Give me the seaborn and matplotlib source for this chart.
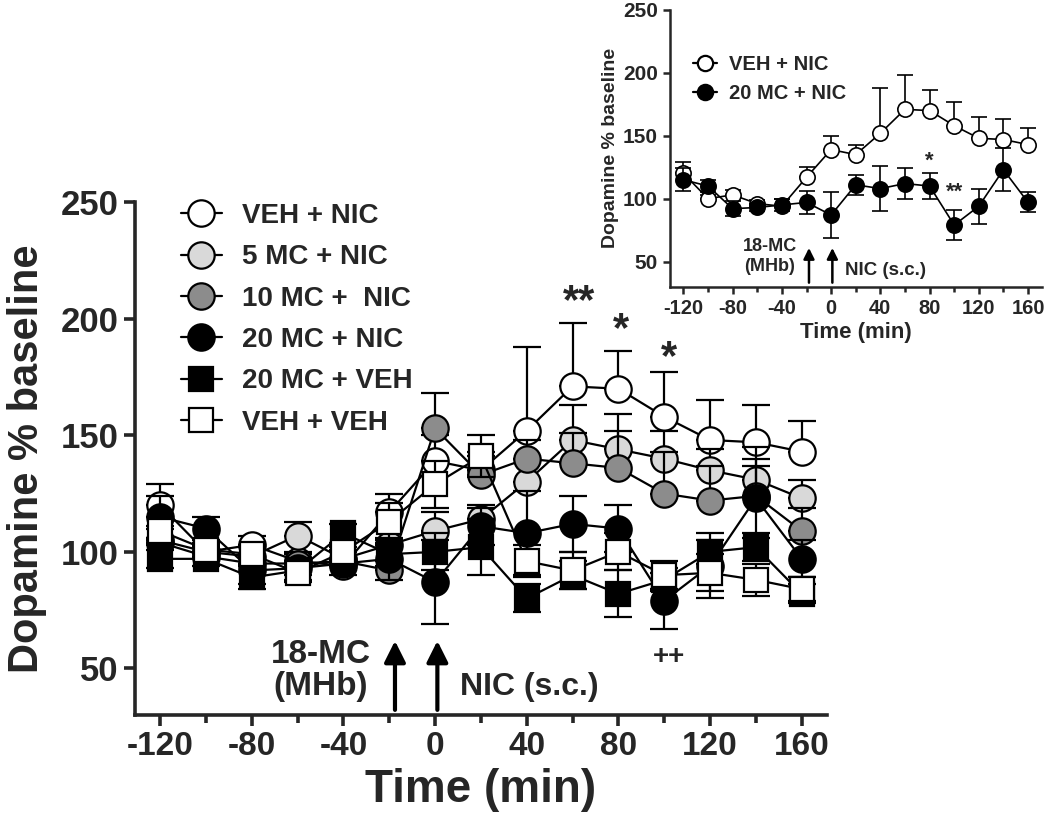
import numpy as np
import pandas as pd
import seaborn as sns
import matplotlib.pyplot as plt
from matplotlib.lines import Line2D
from matplotlib.ticker import MultipleLocator, FixedLocator

# microdialysis time points (min)
time = [-120, -100, -80, -60, -40, -20, 0, 20, 40, 60, 80, 100, 120, 140, 160]

groups = ["VEH + NIC", "5 MC + NIC", "10 MC +  NIC", "20 MC + NIC", "20 MC + VEH", "VEH + VEH"]

veh_nic = [120, 100, 103, 96, 94, 117, 139, 135, 152, 171, 170, 158, 148, 147, 143]
veh_nic_sem = [9, 3, 4, 3, 6, 8, 11, 8, 36, 27, 16, 19, 17, 16, 13]

mc5_nic = [105, 100, 98, 107, 97, 103, 109, 114, 130, 148, 144, 140, 135, 131, 123]
mc5_nic_sem = [6, 4, 4, 6, 5, 6, 8, 6, 10, 15, 15, 12, 9, 14, 8]

mc10_nic = [104, 98, 95, 95, 96, 92, 153, 133, 140, 138, 136, 125, 122, 124, 109]
mc10_nic_sem = [6, 4, 4, 5, 5, 4, 15, 8, 8, 13, 16, 18, 15, 13, 10]

mc20_nic = [115, 110, 92, 93, 95, 97, 87, 111, 108, 112, 110, 79, 94, 123, 97]
mc20_nic_sem = [9, 5, 6, 3, 5, 9, 18, 8, 18, 12, 10, 12, 14, 17, 8]

mc20_veh = [97, 97, 89, 92, 108, 99, 100, 102, 80, 90, 82, 88, 100, 102, 82]
mc20_veh_sem = [4, 3, 5, 4, 4, 5, 8, 12, 6, 6, 10, 5, 5, 6, 4]

veh_veh = [109, 101, 99, 91, 100, 113, 129, 141, 96, 92, 100, 90, 91, 88, 84]
veh_veh_sem = [6, 4, 4, 4, 4, 8, 10, 9, 7, 8, 8, 6, 8, 7, 5]

values = [veh_nic, mc5_nic, mc10_nic, mc20_nic, mc20_veh, veh_veh]
sems = [veh_nic_sem, mc5_nic_sem, mc10_nic_sem, mc20_nic_sem, mc20_veh_sem, veh_veh_sem]

df = pd.concat([pd.DataFrame({"Time": time, "DA": v, "sem": s, "Group": g})
                for g, v, s in zip(groups, values, sems)], ignore_index=True)

# marker, face colour, error-bar side
style = {
    "VEH + NIC": ("o", "white", "up"),
    "5 MC + NIC": ("o", "#d9d9d9", "up"),
    "10 MC +  NIC": ("o", "#8c8c8c", "up"),
    "20 MC + NIC": ("o", "black", "both"),
    "20 MC + VEH": ("s", "black", "both"),
    "VEH + VEH": ("s", "white", "both"),
}

sns.set_style("ticks")
plt.rcParams["font.family"] = ["Liberation Sans", "DejaVu Sans"]
plt.rcParams["font.weight"] = "bold"


def draw(ax, g, ms, lw, cap, z):
    d = df[df["Group"] == g]
    marker, face, s = style[g]
    lo = d["sem"] if s in ("both", "down") else 0 * d["sem"]
    hi = d["sem"] if s in ("both", "up") else 0 * d["sem"]
    ax.errorbar(d["Time"], d["DA"], yerr=[lo, hi], fmt="none", ecolor="black",
                elinewidth=lw, capsize=cap, capthick=lw, zorder=z)
    sns.lineplot(data=d, x="Time", y="DA", ax=ax, color="black", lw=lw,
                 marker=marker, markersize=ms * (0.92 if marker == "s" else 1),
                 markerfacecolor=face, markeredgecolor="black",
                 markeredgewidth=lw, errorbar=None, zorder=z + 0.01)


def frame(ax, lw, tl):
    sns.despine(ax=ax)
    for sp in ("left", "bottom"):
        ax.spines[sp].set_linewidth(lw)
    ax.set_xlim(-131, 171)
    ax.set_ylim(30, 250)
    ax.xaxis.set_major_locator(FixedLocator([-120, -80, -40, 0, 40, 80, 120, 160]))
    ax.xaxis.set_minor_locator(FixedLocator([-100, -60, -20, 20, 60, 100, 140]))
    ax.yaxis.set_major_locator(MultipleLocator(50))
    ax.tick_params(which="major", width=lw, length=tl)
    ax.tick_params(which="minor", width=lw, length=tl * 0.7)


fig = plt.figure(figsize=(10.5, 8.31), dpi=100)

# ---- main panel
ax = fig.add_axes([0.1285, 0.1396, 0.659, 0.617])
for i, g in enumerate(groups):
    draw(ax, g, ms=19, lw=1.6, cap=10, z=2 + i * 0.1)
frame(ax, 2.6, 8)
ax.set_yticks([50, 100, 150, 200, 250])
ax.set_yticklabels(["50", "100", "150", "200", "250"], fontsize=25, fontweight="bold")
ax.set_xticklabels(["-120", "-80", "-40", "0", "40", "80", "120", "160"],
                   fontsize=24, fontweight="bold")
ax.set_xlabel("Time (min)", fontsize=33, fontweight="bold", labelpad=4)
ax.set_ylabel("Dopamine % baseline", fontsize=30, fontweight="bold", labelpad=10)

for t in (-17.5, 1):
    ax.annotate("", xy=(t, 63), xytext=(t, 31),
                arrowprops=dict(arrowstyle="-|>", lw=3, color="black", mutation_scale=32))
ax.text(-28, 49, "18-MC\n(MHb)", ha="right", va="center", multialignment="center",
        fontsize=24, fontweight="bold", linespacing=1.05)
ax.text(11, 42, "NIC (s.c.)", ha="left", va="center", fontsize=23, fontweight="bold")
ax.text(63, 207, "**", ha="center", va="center", fontsize=30, fontweight="bold")
ax.text(81, 195, "*", ha="center", va="center", fontsize=30, fontweight="bold")
ax.text(102, 183, "*", ha="center", va="center", fontsize=30, fontweight="bold")
ax.text(102, 55, "++", ha="center", va="center", fontsize=20, fontweight="bold")

handles = [Line2D([], [], color="black", lw=1.6, marker=style[g][0],
                  markersize=19 * (0.92 if style[g][0] == "s" else 1),
                  markerfacecolor=style[g][1], markeredgecolor="black", markeredgewidth=1.6)
           for g in groups]
ax.legend(handles, groups, loc="upper left", bbox_to_anchor=(0.05, 1.02), frameon=False,
          prop={"size": 20, "weight": "bold"}, handlelength=1.5, handletextpad=0.7,
          labelspacing=0.55, borderaxespad=0)

# ---- inset
ins = fig.add_axes([0.638, 0.655, 0.354, 0.333])
for i, g in enumerate(["VEH + NIC", "20 MC + NIC"]):
    draw(ins, g, ms=11, lw=1.2, cap=6, z=2 + i * 0.1)
frame(ins, 1.8, 5)
ins.set_yticks([50, 100, 150, 200, 250])
ins.set_yticklabels(["50", "100", "150", "200", "250"], fontsize=15, fontweight="bold")
ins.set_xticklabels(["-120", "-80", "-40", "0", "40", "80", "120", "160"],
                    fontsize=14.5, fontweight="bold")
ins.set_xlabel("Time (min)", fontsize=16, fontweight="bold", labelpad=3)
ins.set_ylabel("Dopamine % baseline", fontsize=14, fontweight="bold", labelpad=3)
for t in (-18, 1):
    ins.annotate("", xy=(t, 63), xytext=(t, 31),
                 arrowprops=dict(arrowstyle="-|>", lw=1.8, color="black", mutation_scale=16))
ins.text(-28, 54, "18-MC\n(MHb)", ha="right", va="center", multialignment="center",
         fontsize=13, fontweight="bold")
ins.text(11, 43, "NIC (s.c.)", ha="left", va="center", fontsize=13.5, fontweight="bold")
ins.text(80, 130, "*", ha="center", va="center", fontsize=16, fontweight="bold")
ins.text(100, 105, "**", ha="center", va="center", fontsize=16, fontweight="bold")
ins.legend(handles[0:4:3], ["VEH + NIC", "20 MC + NIC"], loc="upper left",
           bbox_to_anchor=(0.04, 0.865), frameon=False,
           prop={"size": 14.5, "weight": "bold"}, handlelength=1.2, handletextpad=0.6,
           labelspacing=0.5, borderaxespad=0, markerscale=11 / 19)

fig.savefig("out.png", dpi=100)
